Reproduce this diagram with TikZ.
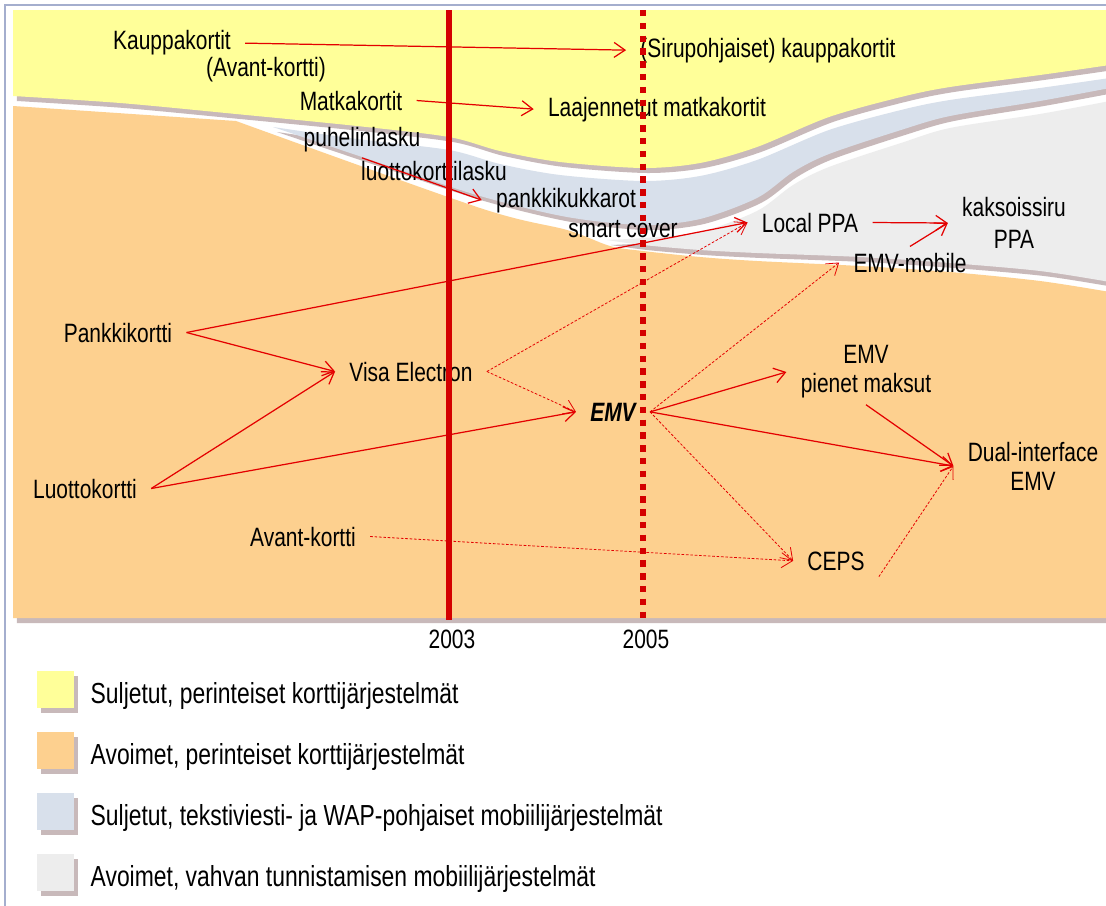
\documentclass[tikz,border=0pt]{standalone}
\usepackage{fontspec}
\setmainfont[FakeStretch=0.79]{Liberation Sans}
\usetikzlibrary{positioning}
\usetikzlibrary{arrows.meta}
\definecolor{yel}{RGB}{255,255,153}
\definecolor{ora}{RGB}{253,208,143}
\definecolor{blu}{RGB}{216,224,235}
\definecolor{lgr}{RGB}{237,237,237}
\definecolor{shd}{RGB}{200,185,186}
\definecolor{frm}{RGB}{164,174,206}
\definecolor{linered}{RGB}{212,0,0}
\definecolor{arrred}{RGB}{228,0,0}

\begin{document}
\begin{tikzpicture}[
    x=0.02cm, y=-0.02cm,
    shadowed/.style={preaction={fill=shd, transform canvas={xshift=0.08cm, yshift=-0.1cm}}},
    lbl/.style={anchor=base, inner xsep=0.28cm, inner ysep=0.12cm, font=\fontsize{15.1}{16.5}\selectfont},
    lbl2/.style={lbl, anchor=center, align=center},
    arr/.style={-{Straight Barb[length=0.22cm, width=0.3cm]}, line width=0.7pt, arrred},
    darr/.style={arr, line width=0.45pt, dash pattern=on 1.5pt off 1pt},
    legbox/.style={minimum size=0.74cm, inner sep=0, shadowed},
    legtext/.style={font=\fontsize{16.5}{19}\selectfont, inner sep=0, yshift=-0.12cm}
]
    \useasboundingbox (0,0) rectangle (1106,906);
    \fill[white] (0,0) rectangle (1106,906);
    \clip (0,0) rectangle (1106,906);

    % Bands
    \fill[ora, shadowed] (13,106) -- plot[smooth, tension=0.5] coordinates {(236,121) (480,208) (567,230) (610,246) (643,251) (700,257) (757,261) (860,266) (950,272) (1040,281) (1110,292)} -- (1110,618) -- (13,618) -- cycle;
    \fill[lgr, shadowed] plot[smooth, tension=0.5] coordinates {(607,240) (643,238) (700,232) (757,211) (793,185) (829,167) (901,143) (950,128) (1040,114) (1110,101)} -- (1110,282) -- plot[smooth, tension=0.5] coordinates {(1110,282) (1040,271) (950,263) (860,257) (757,253) (700,250) (643,245) (607,240)} -- cycle;
    \fill[blu, shadowed] plot[smooth, tension=0.5] coordinates {(273,127) (357,139) (449,150) (500,164) (560,175) (643,181) (700,176) (757,160) (829,130) (901,110) (950,100) (1040,88) (1110,78)} -- (1110,88) -- plot[smooth, tension=0.5] coordinates {(1110,88) (1040,101) (950,116) (901,130) (829,154) (793,172) (757,198) (700,219) (643,225) (567,217) (480,196) (380,163) (273,127)} -- cycle;
    \fill[yel, shadowed] (13,10) -- (1110,10) -- plot[smooth, tension=0.5] coordinates {(1110,65) (1040,75) (950,87) (901,97) (829,117) (757,147) (700,163) (643,168) (560,162) (500,151) (449,137) (357,126) (236,114) (120,103) (13,96)} -- cycle;
    \draw[frm, line width=0.035cm] (5,906) -- (5,5) -- (1106,5);

    % Labels
    \node[lbl] (kauppa) at (172,50) {Kauppakortit};
    \node[lbl] (avantold) at (266,76) {(Avant-kortti)};
    \node[lbl] (sirukauppa) at (768,57) {(Sirupohjaiset) kauppakortit};
    \node[lbl] (matka) at (351,110) {Matkakortit};
    \node[lbl] (laajmatka) at (657,116) {Laajennetut matkakortit};
    \node[lbl] (puhelin) at (362,146) {puhelinlasku};
    \node[lbl] (luottolasku) at (434,180) {luottokorttilasku};
    \node[lbl] (kukkaro) at (566,207) {pankkikukkarot};
    \node[lbl] (smartcover) at (623,237) {smart cover};
    \node[lbl] (localppa) at (810,232) {Local PPA};
    \node[lbl2, font=\fontsize{15.1}{18.2}\selectfont] (kaksoissiru) at (1014,223) {kaksoissiru\\PPA};
    \node[lbl] (emvmobile) at (910,272) {EMV-mobile};
    \node[lbl] (pankki) at (118,342) {Pankkikortti};
    \node[lbl] (visa) at (411,381) {Visa Electron};
    \node[lbl, font=\fontsize{15.1}{16.5}\selectfont\bfseries\itshape] (emv) at (613,421) {EMV};
    \node[lbl2] (emvpienet) at (866,372) {EMV\\pienet maksut};
    \node[lbl2] (dual) at (1033,466) {Dual-interface\\EMV};
    \node[lbl] (luotto) at (85,498) {Luottokortti};
    \node[lbl] (avant) at (303,546) {Avant-kortti};
    \node[lbl] (ceps) at (836,570) {CEPS};
    \node[lbl] (y2003) at (452,648) {2003};
    \node[lbl] (y2005) at (646,648) {2005};

    % Arrows
    \draw[arr] (kauppa.east) -- (sirukauppa.west);
    \draw[arr] (matka.east) -- (laajmatka.west);
    \draw[arr] (puhelin.south) -- (kukkaro.west);
    \draw[arr] (pankki.east) -- (localppa.west);
    \draw[arr] (pankki.east) -- (visa.west);
    \draw[arr] (luotto.east) -- (visa.west);
    \draw[arr] (luotto.east) -- (emv.west);
    \draw[darr] (visa.east) -- (localppa.west);
    \draw[darr] (visa.east) -- (emv.west);
    \draw[darr] (emv.east) -- (emvmobile.west);
    \draw[arr] (emv.east) -- (emvpienet.west);
    \draw[arr] (emv.east) -- (dual.west);
    \draw[darr] (emv.east) -- (ceps.west);
    \draw[darr] (avant.east) -- (ceps.west);
    \draw[arr] (emvpienet.south) -- (dual.west);
    \draw[darr] (ceps.south east) -- (dual.west);
    \draw[arr] (localppa.east) -- (kaksoissiru.west);
    \draw[arr] (emvmobile.north) -- (kaksoissiru.west);

    % Year lines
    \draw[linered, line width=0.13cm] (449,10) -- (449,620);
    \draw[linered, line width=0.13cm, dash pattern=on 0.13cm off 0.126cm] (643,10) -- (643,620);

    % Legend
    \node[legbox, fill=yel] (leg1) at (55.5,689.5) {};
    \node[legbox, fill=ora] (leg2) at (55.5,750.5) {};
    \node[legbox, fill=blu] (leg3) at (55.5,811.5) {};
    \node[legbox, fill=lgr] (leg4) at (55.5,872.5) {};
    \node[legtext, right=0.32cm of leg1] (legt1) {Suljetut, perinteiset korttijärjestelmät};
    \node[legtext, right=0.32cm of leg2] (legt2) {Avoimet, perinteiset korttijärjestelmät};
    \node[legtext, right=0.32cm of leg3] (legt3) {Suljetut, tekstiviesti- ja WAP-pohjaiset mobiilijärjestelmät};
    \node[legtext, right=0.32cm of leg4] (legt4) {Avoimet, vahvan tunnistamisen mobiilijärjestelmät};
\end{tikzpicture}
\end{document}
